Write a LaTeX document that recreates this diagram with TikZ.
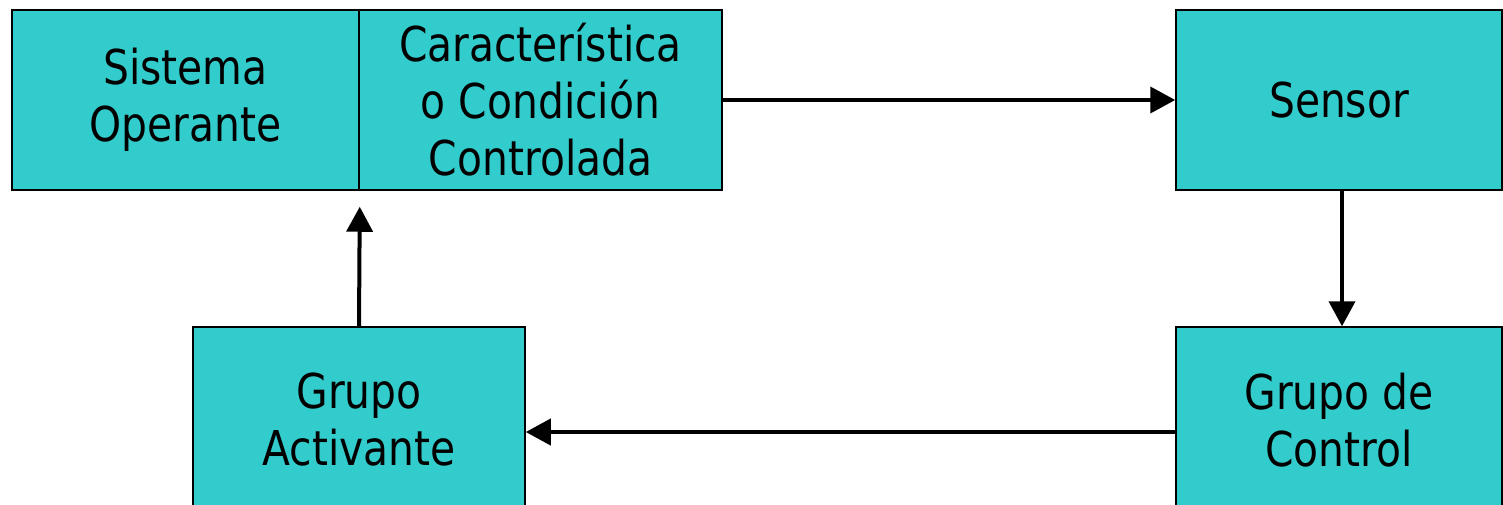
\documentclass[tikz,border=0pt]{standalone}
\usepackage{fontspec}
\setmainfont[FakeStretch=0.85]{DejaVu Sans}
\usetikzlibrary{arrows.meta}
\definecolor{boxfill}{HTML}{33CCCC}
\begin{document}
\begin{tikzpicture}[x=1pt,y=-1pt,
  box/.style={draw=black, line width=1.5pt, fill=boxfill, inner sep=0pt, align=center, font=\fontsize{48}{57}\selectfont},
  arr/.style={line width=4pt, -{Triangle[length=25pt,width=26pt]}}]
\useasboundingbox (0,0) rectangle (1503,505);
\node[box, minimum width=347pt, minimum height=180pt] (so) at (185.5,100) {Sistema\\Operante};
\node[box, minimum width=363pt, minimum height=180pt] (cc) at (540.5,100) {Característica\\o Condición\\Controlada};
\node[box, minimum width=326pt, minimum height=180pt] (se) at (1339,100) {Sensor};
\node[box, minimum width=326pt, minimum height=186pt] (gc) at (1339,420) {Grupo de\\Control};
\node[box, minimum width=332pt, minimum height=186pt] (ga) at (359,420) {Grupo\\Activante};
\draw[arr] (cc.east) -- (se.west);
\draw[arr] ([xshift=3pt]se.south) -- ([xshift=3pt]se.south |- gc.north);
\draw[arr] ([yshift=-12pt]gc.west) -- ([yshift=-12pt]gc.west -| ga.east);
\draw[arr] (ga.north) -- ([yshift=-16pt]so.south east);
\end{tikzpicture}
\end{document}
